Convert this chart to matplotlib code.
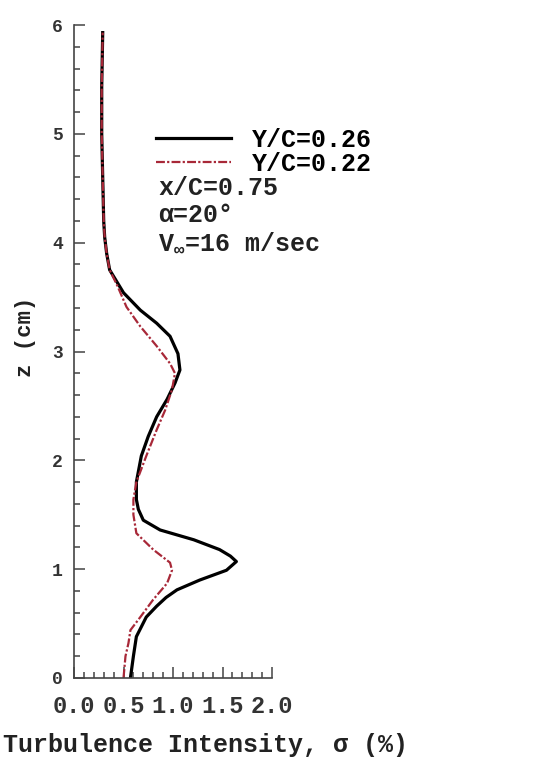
import numpy as np
import matplotlib
matplotlib.use("Agg")
import matplotlib.pyplot as plt
from matplotlib.ticker import MultipleLocator, FormatStrFormatter

# profile Y/C = 0.26 (black, solid)
z_a = [0.0, 0.2, 0.38, 0.47, 0.56, 0.66, 0.74, 0.81, 0.90, 0.99, 1.07, 1.12,
       1.18, 1.27, 1.36, 1.45, 1.55, 1.64, 1.80, 2.04, 2.22, 2.40, 2.56, 2.71,
       2.83, 2.98, 3.14, 3.26, 3.38, 3.54, 3.75, 3.90, 4.05, 4.2, 4.6, 5.0,
       5.43, 5.93]
s_a = [0.57, 0.60, 0.63, 0.68, 0.73, 0.835, 0.93, 1.04, 1.27, 1.54, 1.64, 1.58,
       1.47, 1.21, 0.87, 0.70, 0.65, 0.63, 0.63, 0.68, 0.75, 0.835, 0.94, 1.02,
       1.07, 1.05, 0.97, 0.835, 0.67, 0.50, 0.36, 0.33, 0.31, 0.30, 0.29, 0.28,
       0.28, 0.29]

# profile Y/C = 0.22 (red, dash-dot)
z_b = [0.0, 0.2, 0.32, 0.44, 0.56, 0.72, 0.87, 0.99, 1.06, 1.18, 1.33, 1.50,
       1.64, 1.80, 2.04, 2.28, 2.46, 2.65, 2.80, 2.89, 3.05, 3.23, 3.41, 3.60,
       3.75, 3.90, 4.05, 4.2, 4.6, 5.0, 5.43, 5.93]
s_b = [0.50, 0.52, 0.55, 0.57, 0.67, 0.80, 0.94, 0.99, 0.97, 0.80, 0.63, 0.60,
       0.60, 0.63, 0.73, 0.835, 0.92, 0.99, 1.02, 0.97, 0.835, 0.67, 0.53, 0.44,
       0.36, 0.33, 0.31, 0.30, 0.29, 0.28, 0.28, 0.29]

labels = ["Y/C=0.26", "Y/C=0.22"]
notes = ["x/C=0.75", "\u03b1=20\u00b0", "V$_{\\infty}$=16 m/sec"]

plt.rcParams['font.family'] = ["Liberation Mono", "DejaVu Sans"]
plt.rcParams['font.weight'] = 'bold'
plt.rcParams['axes.labelweight'] = 'bold'
plt.rcParams['mathtext.fontset'] = 'custom'
plt.rcParams['mathtext.rm'] = 'Liberation Mono:bold'

W, H = 541, 763
fig = plt.figure(figsize=(W / 100, H / 100), dpi=100)
ax = fig.add_axes([74 / W, 1 - 678 / H, (272 - 74) / W, (678 - 25) / H])

ax.plot(s_a, z_a, color='black', lw=2.3, label=labels[0])
ax.plot(s_b, z_b, color='#a82838', lw=1.6, ls=(0, (4, 1, 1, 1)), label=labels[1])

ax.set_xlim(0, 2)
ax.set_ylim(0, 6)
ax.spines['top'].set_visible(False)
ax.spines['right'].set_visible(False)
for s in ['left', 'bottom']:
    ax.spines[s].set_color('#444444')
    ax.spines[s].set_linewidth(1.2)

ax.xaxis.set_major_locator(MultipleLocator(0.5))
ax.xaxis.set_minor_locator(MultipleLocator(0.1))
ax.yaxis.set_major_locator(MultipleLocator(1))
ax.yaxis.set_minor_locator(MultipleLocator(0.2))
ax.xaxis.set_major_formatter(FormatStrFormatter('%.1f'))
ax.tick_params(which='both', direction='in', color='#444444', width=1.1)
ax.tick_params(which='major', length=8)
ax.tick_params(which='minor', length=4)
ax.tick_params(axis='x', labelsize=17, pad=12, labelcolor='#333333')
ax.tick_params(axis='y', labelsize=13, pad=8, labelcolor='#333333')

ax.set_xlabel("Turbulence Intensity, \u03c3 (%)", fontsize=18, ha='left',
              va='center', color='#222222')
ax.xaxis.set_label_coords((3 - 74) / (272 - 74), -(745 - 678) / (678 - 25))
ax.set_ylabel("z (cm)", fontsize=16, color='#222222')
ax.yaxis.set_label_coords((36 - 74) / (272 - 74), (678 - 337) / (678 - 25))

ax.legend(loc='upper left', bbox_to_anchor=(156 / W, 1 - 128 / H),
          bbox_transform=fig.transFigure, frameon=False, fontsize=18,
          handlelength=3.0, handletextpad=0.85, labelspacing=0.0,
          borderaxespad=0, borderpad=0)

for i, t in enumerate(notes):
    fig.text(158 / W, 1 - (188 + 27 * i) / H, t, fontsize=18, va='center',
             ha='left', color='#222222')

fig.savefig("out.png", dpi=100)
